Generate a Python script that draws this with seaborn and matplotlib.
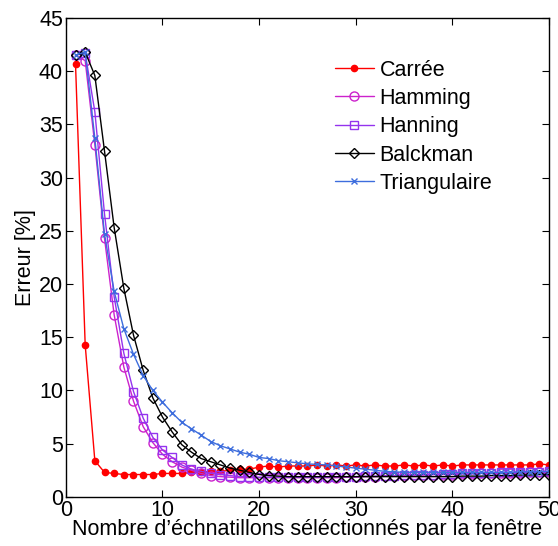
import matplotlib.pyplot as plt
import pandas as pd
import seaborn as sns

# nombre d'échantillons (axe x)
n_echantillons = list(range(1, 51))

carree = [40.7, 14.3, 3.4, 2.3, 2.2, 2.1, 2.1, 2.1, 2.1, 2.2,
          2.2, 2.2, 2.3, 2.3, 2.4, 2.4, 2.5, 2.6, 2.6, 2.8,
          2.9, 2.8, 2.9, 2.9, 2.9, 3.0, 2.9, 3.0, 2.9, 3.0,
          2.9, 3.0, 2.9, 2.9, 3.0, 2.9, 3.0, 2.9, 3.0, 2.9,
          3.0, 3.0, 3.0, 3.0, 3.0, 3.0, 3.0, 3.0, 3.1, 3.0]
hamming = [41.5, 41.0, 33.1, 24.3, 17.1, 12.2, 9.0, 6.6, 5.1, 4.0,
           3.3, 2.8, 2.5, 2.2, 2.0, 1.9, 1.85, 1.8, 1.8, 1.8,
           1.8, 1.8, 1.8, 1.8, 1.8, 1.8, 1.8, 1.8, 1.85, 1.85,
           1.9, 1.9, 1.95, 2.0, 2.0, 2.05, 2.05, 2.1, 2.1, 2.1,
           2.15, 2.15, 2.2, 2.2, 2.2, 2.25, 2.25, 2.3, 2.3, 2.3]
hanning = [41.5, 41.7, 36.2, 26.6, 18.8, 13.5, 9.9, 7.4, 5.6, 4.4,
           3.7, 3.0, 2.6, 2.4, 2.2, 2.1, 2.0, 1.9, 1.9, 1.85,
           1.85, 1.85, 1.85, 1.85, 1.85, 1.85, 1.85, 1.9, 1.9, 1.9,
           1.95, 1.95, 2.0, 2.0, 2.05, 2.05, 2.1, 2.1, 2.15, 2.15,
           2.2, 2.2, 2.25, 2.25, 2.3, 2.3, 2.3, 2.35, 2.35, 2.4]
balckman = [41.5, 41.8, 39.6, 32.5, 25.3, 19.6, 15.2, 11.9, 9.3, 7.5,
            6.1, 4.9, 4.2, 3.6, 3.3, 3.0, 2.7, 2.5, 2.3, 2.1,
            2.0, 1.95, 1.9, 1.9, 1.9, 1.9, 1.9, 1.9, 1.9, 1.9,
            1.9, 1.9, 1.9, 1.9, 1.9, 1.9, 1.9, 1.9, 1.9, 1.9,
            1.95, 1.95, 1.95, 2.0, 2.0, 2.0, 2.05, 2.05, 2.1, 2.1]
triangulaire = [41.5, 41.8, 33.7, 24.7, 19.3, 15.8, 13.4, 11.4, 10.0, 8.9,
                7.9, 7.0, 6.4, 5.8, 5.2, 4.8, 4.5, 4.2, 4.0, 3.7,
                3.6, 3.4, 3.3, 3.2, 3.1, 3.05, 3.0, 2.9, 2.8, 2.7,
                2.6, 2.5, 2.4, 2.35, 2.3, 2.3, 2.3, 2.3, 2.3, 2.3,
                2.3, 2.3, 2.3, 2.3, 2.3, 2.3, 2.35, 2.35, 2.35, 2.4]

fenetres = ["Carrée", "Hamming", "Hanning", "Balckman", "Triangulaire"]
valeurs = [carree, hamming, hanning, balckman, triangulaire]

# style de chaque courbe : couleur, marqueur, taille, rempli
styles = {
    "Carrée": ("#ff0000", "o", 4.5, True),
    "Hamming": ("#cc22cc", "o", 6.5, False),
    "Hanning": ("#9433ee", "s", 5.5, False),
    "Balckman": ("#000000", "D", 5.5, False),
    "Triangulaire": ("#3d6ddd", "x", 5, False),
}

sns.set_theme(style="ticks")
plt.rcParams["font.family"] = ["Liberation Sans", "DejaVu Sans"]
plt.rcParams["text.color"] = "black"
plt.rcParams["axes.labelcolor"] = "black"

fig = plt.figure(figsize=(5.58, 5.46), dpi=100)
ax = fig.add_axes([0.118, 0.09, 0.866, 0.877])

for nom, y in zip(fenetres, valeurs):
    couleur, marqueur, taille, plein = styles[nom]
    df = pd.DataFrame({"n": n_echantillons, "erreur": y})
    sns.lineplot(data=df, x="n", y="erreur", ax=ax, label=nom,
                 color=couleur, marker=marqueur, markersize=taille,
                 markerfacecolor=couleur if plein else "none",
                 markeredgecolor=couleur, markeredgewidth=1.0,
                 linewidth=1.0)

ax.set_xlim(0, 50)
ax.set_ylim(0, 45)
ax.set_xticks(range(0, 51, 10))
ax.set_yticks(range(0, 46, 5))
ax.tick_params(direction="in", top=True, right=True, length=5, width=0.8,
               labelsize=15.5, colors="black", labelcolor="black", pad=2)
for sp in ax.spines.values():
    sp.set_visible(True)
    sp.set_linewidth(1.0)
    sp.set_color("black")

ax.set_xlabel("Nombre d\u2019échnatillons séléctionnés par la fenêtre",
              fontsize=15.5, labelpad=-1)
ax.set_ylabel("Erreur [%]", fontsize=15.5, labelpad=2)

ax.legend(loc="upper left", bbox_to_anchor=(0.556, 0.913), frameon=False,
          fontsize=15.5, handlelength=1.85, handletextpad=0.25,
          labelspacing=0.34, borderpad=0, borderaxespad=0)

fig.savefig("out.png", dpi=100)
